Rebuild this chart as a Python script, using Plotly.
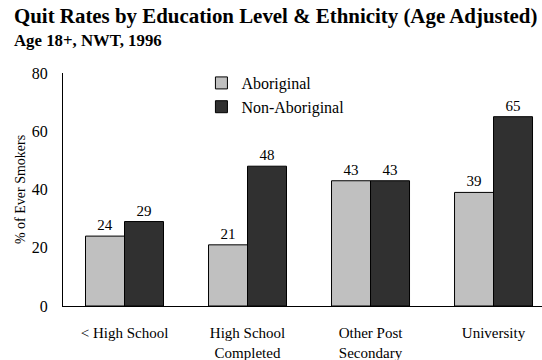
import plotly.graph_objects as go

categories = ["< High School", "High School<br>Completed", "Other Post<br>Secondary", "University"]
aboriginal = [24, 21, 43, 39]
non_aboriginal = [29, 48, 43, 65]
y_ticks = [0, 20, 40, 60, 80]

font = "Liberation Serif"

fig = go.Figure()
fig.add_trace(go.Bar(
    name="Aboriginal", x=categories, y=aboriginal,
    marker=dict(color="#c0c0c0", line=dict(color="#000000", width=1)),
    text=aboriginal, textposition="outside", cliponaxis=False,
    textfont=dict(family=font, size=15, color="#000"),
))
fig.add_trace(go.Bar(
    name="Non-Aboriginal", x=categories, y=non_aboriginal,
    marker=dict(color="#303030", line=dict(color="#000000", width=1)),
    text=non_aboriginal, textposition="outside", cliponaxis=False,
    textfont=dict(family=font, size=15, color="#000"),
))

fig.update_layout(
    width=542, height=360,
    margin=dict(l=63, r=0, t=73, b=54, autoexpand=False),
    paper_bgcolor="white", plot_bgcolor="white",
    barmode="group", bargap=0.366, bargroupgap=0,
    font=dict(family=font, size=15, color="#000"),
    showlegend=True,
    legend=dict(x=0.289, y=1.03, xanchor="left", yanchor="top",
                font=dict(family=font, size=16, color="#000"),
                bgcolor="rgba(0,0,0,0)", tracegroupgap=0, itemwidth=30),
    xaxis=dict(range=[-0.5, 3.394], showline=True, linecolor="#000", linewidth=1,
               ticks="", showgrid=False, tickfont=dict(family=font, size=15),
               ticklabelstandoff=13, fixedrange=True, automargin=False),
    yaxis=dict(range=[0, 80], tickvals=y_ticks, showline=True, linecolor="#000", linewidth=1,
               ticks="", showgrid=False, zeroline=False, tickfont=dict(family=font, size=16),
               ticklabelstandoff=11, automargin=False,
               title=dict(text="% of Ever Smokers", font=dict(family=font, size=14), standoff=2)),
    annotations=[
        dict(text="<b>Quit Rates by Education Level & Ethnicity (Age Adjusted)</b>",
             showarrow=False),
        dict(text="<b>Age 18+, NWT, 1996</b>", showarrow=False),
    ],
)
W, H = 542 - 63, 360 - 73 - 54
fig.layout.annotations[0].update(x=(13 - 63) / W, y=(306 - 3) / H, xanchor="left", yanchor="top",
                                 xref="paper", yref="paper", borderpad=0,
                                 font=dict(family=font, size=20.9, color="#000"))
fig.layout.annotations[1].update(x=(13 - 63) / W, y=(306 - 30) / H, xanchor="left", yanchor="top",
                                 xref="paper", yref="paper", borderpad=0,
                                 font=dict(family=font, size=16.8, color="#000"))

fig.write_html("out.html")
